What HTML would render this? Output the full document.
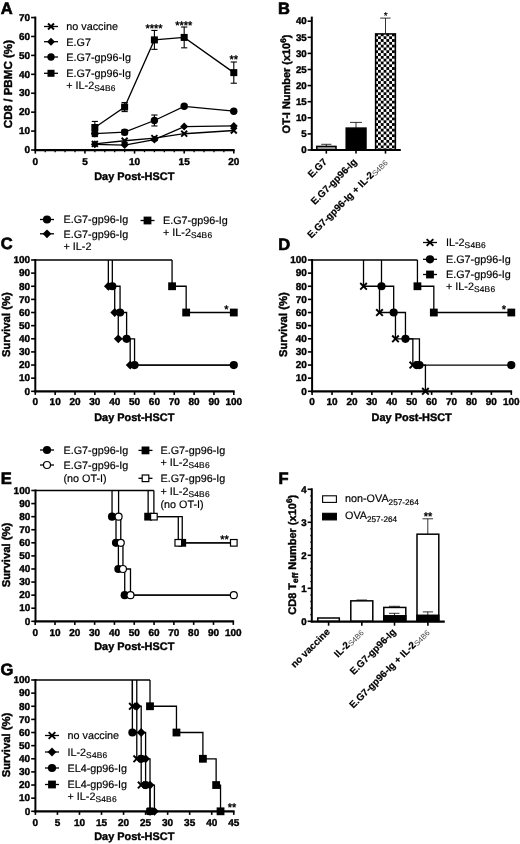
<!DOCTYPE html>
<html><head><meta charset="utf-8"><title>Figure</title>
<style>html,body{margin:0;padding:0;background:#fff;}svg{display:block;will-change:transform;}text{font-family:"Liberation Sans",sans-serif;text-rendering:geometricPrecision;}</style></head>
<body>
<svg width="520" height="844" viewBox="0 0 520 844" font-family="'Liberation Sans', sans-serif" fill="#000">
<defs><pattern id="chk" x="375.2" y="33.5" width="5.6" height="5.6" patternUnits="userSpaceOnUse"><rect width="5.6" height="5.6" fill="#fff"/><rect x="0" y="0" width="2.8" height="2.8" fill="#000"/><rect x="2.8" y="2.8" width="2.8" height="2.8" fill="#000"/></pattern></defs>
<rect width="520" height="844" fill="#fff"/>
<text x="0.8" y="13.8" font-size="16.5" font-weight="bold" text-anchor="start" stroke="#000" stroke-width="0.65" >A</text>
<polyline points="94.85,143.95 124.62,140.73 154.4,138.08 184.18,133.73 233.8,130.51" fill="none" stroke="#000" stroke-width="1.3" stroke-linejoin="miter" />
<polyline points="94.85,144.32 124.62,145.08 154.4,139.59 184.18,126.54 233.8,125.97" fill="none" stroke="#000" stroke-width="1.3" stroke-linejoin="miter" />
<polyline points="94.85,133.54 124.62,132.22 154.4,120.48 184.18,106.29 233.8,111.21" fill="none" stroke="#000" stroke-width="1.3" stroke-linejoin="miter" />
<polyline points="94.85,127.49 124.62,107.05 154.4,39.89 184.18,37.43 233.8,72.62" fill="none" stroke="#000" stroke-width="1.3" stroke-linejoin="miter" />
<line x1="94.85" y1="121.43" x2="94.85" y2="133.54" stroke="#000" stroke-width="1.1" />
<line x1="91.75" y1="121.43" x2="97.95" y2="121.43" stroke="#000" stroke-width="1.1" />
<line x1="91.75" y1="133.54" x2="97.95" y2="133.54" stroke="#000" stroke-width="1.1" />
<line x1="124.62" y1="102.51" x2="124.62" y2="111.59" stroke="#000" stroke-width="1.1" />
<line x1="121.53" y1="102.51" x2="127.72" y2="102.51" stroke="#000" stroke-width="1.1" />
<line x1="121.53" y1="111.59" x2="127.72" y2="111.59" stroke="#000" stroke-width="1.1" />
<line x1="154.4" y1="30.43" x2="154.4" y2="49.35" stroke="#000" stroke-width="1.1" />
<line x1="151.3" y1="30.43" x2="157.5" y2="30.43" stroke="#000" stroke-width="1.1" />
<line x1="151.3" y1="49.35" x2="157.5" y2="49.35" stroke="#000" stroke-width="1.1" />
<line x1="184.18" y1="27.02" x2="184.18" y2="47.83" stroke="#000" stroke-width="1.1" />
<line x1="181.08" y1="27.02" x2="187.28" y2="27.02" stroke="#000" stroke-width="1.1" />
<line x1="181.08" y1="47.83" x2="187.28" y2="47.83" stroke="#000" stroke-width="1.1" />
<line x1="233.8" y1="62.02" x2="233.8" y2="83.21" stroke="#000" stroke-width="1.1" />
<line x1="230.7" y1="62.02" x2="236.9" y2="62.02" stroke="#000" stroke-width="1.1" />
<line x1="230.7" y1="83.21" x2="236.9" y2="83.21" stroke="#000" stroke-width="1.1" />
<line x1="94.85" y1="130.51" x2="94.85" y2="136.57" stroke="#000" stroke-width="1.1" />
<line x1="91.75" y1="130.51" x2="97.95" y2="130.51" stroke="#000" stroke-width="1.1" />
<line x1="91.75" y1="136.57" x2="97.95" y2="136.57" stroke="#000" stroke-width="1.1" />
<line x1="124.62" y1="129.76" x2="124.62" y2="134.67" stroke="#000" stroke-width="1.1" />
<line x1="121.53" y1="129.76" x2="127.72" y2="129.76" stroke="#000" stroke-width="1.1" />
<line x1="121.53" y1="134.67" x2="127.72" y2="134.67" stroke="#000" stroke-width="1.1" />
<line x1="154.4" y1="115" x2="154.4" y2="125.97" stroke="#000" stroke-width="1.1" />
<line x1="151.3" y1="115" x2="157.5" y2="115" stroke="#000" stroke-width="1.1" />
<line x1="151.3" y1="125.97" x2="157.5" y2="125.97" stroke="#000" stroke-width="1.1" />
<line x1="184.18" y1="104.4" x2="184.18" y2="108.19" stroke="#000" stroke-width="1.1" />
<line x1="181.08" y1="104.4" x2="187.28" y2="104.4" stroke="#000" stroke-width="1.1" />
<line x1="181.08" y1="108.19" x2="187.28" y2="108.19" stroke="#000" stroke-width="1.1" />
<line x1="233.8" y1="109.7" x2="233.8" y2="112.73" stroke="#000" stroke-width="1.1" />
<line x1="230.7" y1="109.7" x2="236.9" y2="109.7" stroke="#000" stroke-width="1.1" />
<line x1="230.7" y1="112.73" x2="236.9" y2="112.73" stroke="#000" stroke-width="1.1" />
<line x1="91.88" y1="140.98" x2="97.82" y2="146.92" stroke="#000" stroke-width="1.9" />
<line x1="91.88" y1="146.92" x2="97.82" y2="140.98" stroke="#000" stroke-width="1.9" />
<line x1="121.66" y1="137.76" x2="127.59" y2="143.7" stroke="#000" stroke-width="1.9" />
<line x1="121.66" y1="143.7" x2="127.59" y2="137.76" stroke="#000" stroke-width="1.9" />
<line x1="151.43" y1="135.11" x2="157.37" y2="141.05" stroke="#000" stroke-width="1.9" />
<line x1="151.43" y1="141.05" x2="157.37" y2="135.11" stroke="#000" stroke-width="1.9" />
<line x1="181.21" y1="130.76" x2="187.15" y2="136.7" stroke="#000" stroke-width="1.9" />
<line x1="181.21" y1="136.7" x2="187.15" y2="130.76" stroke="#000" stroke-width="1.9" />
<line x1="230.83" y1="127.54" x2="236.77" y2="133.48" stroke="#000" stroke-width="1.9" />
<line x1="230.83" y1="133.48" x2="236.77" y2="127.54" stroke="#000" stroke-width="1.9" />
<polygon points="90.89,144.32 94.85,140.36 98.81,144.32 94.85,148.28" fill="#000"/>
<polygon points="120.67,145.08 124.62,141.12 128.59,145.08 124.62,149.04" fill="#000"/>
<polygon points="150.44,139.59 154.4,135.63 158.36,139.59 154.4,143.55" fill="#000"/>
<polygon points="180.22,126.54 184.18,122.58 188.14,126.54 184.18,130.5" fill="#000"/>
<polygon points="229.84,125.97 233.8,122.01 237.76,125.97 233.8,129.93" fill="#000"/>
<circle cx="94.85" cy="133.54" r="3.69" fill="#000"/>
<circle cx="124.62" cy="132.22" r="3.69" fill="#000"/>
<circle cx="154.4" cy="120.48" r="3.69" fill="#000"/>
<circle cx="184.18" cy="106.29" r="3.69" fill="#000"/>
<circle cx="233.8" cy="111.21" r="3.69" fill="#000"/>
<rect x="91.34" y="123.98" width="7.02" height="7.02" fill="#000"/>
<rect x="121.11" y="103.54" width="7.02" height="7.02" fill="#000"/>
<rect x="150.89" y="36.38" width="7.02" height="7.02" fill="#000"/>
<rect x="180.67" y="33.92" width="7.02" height="7.02" fill="#000"/>
<rect x="230.29" y="69.11" width="7.02" height="7.02" fill="#000"/>
<line x1="35.3" y1="16.56" x2="35.3" y2="151" stroke="#000" stroke-width="2.0" />
<line x1="31.1" y1="150" x2="35.3" y2="150" stroke="#000" stroke-width="1.6" />
<text x="30.1" y="153.25" font-size="10.0" font-weight="bold" text-anchor="end" stroke="#000" stroke-width="0.4" >0</text>
<line x1="31.1" y1="131.08" x2="35.3" y2="131.08" stroke="#000" stroke-width="1.6" />
<text x="30.1" y="134.33" font-size="10.0" font-weight="bold" text-anchor="end" stroke="#000" stroke-width="0.4" >10</text>
<line x1="31.1" y1="112.16" x2="35.3" y2="112.16" stroke="#000" stroke-width="1.6" />
<text x="30.1" y="115.41" font-size="10.0" font-weight="bold" text-anchor="end" stroke="#000" stroke-width="0.4" >20</text>
<line x1="31.1" y1="93.24" x2="35.3" y2="93.24" stroke="#000" stroke-width="1.6" />
<text x="30.1" y="96.49" font-size="10.0" font-weight="bold" text-anchor="end" stroke="#000" stroke-width="0.4" >30</text>
<line x1="31.1" y1="74.32" x2="35.3" y2="74.32" stroke="#000" stroke-width="1.6" />
<text x="30.1" y="77.57" font-size="10.0" font-weight="bold" text-anchor="end" stroke="#000" stroke-width="0.4" >40</text>
<line x1="31.1" y1="55.4" x2="35.3" y2="55.4" stroke="#000" stroke-width="1.6" />
<text x="30.1" y="58.65" font-size="10.0" font-weight="bold" text-anchor="end" stroke="#000" stroke-width="0.4" >50</text>
<line x1="31.1" y1="36.48" x2="35.3" y2="36.48" stroke="#000" stroke-width="1.6" />
<text x="30.1" y="39.73" font-size="10.0" font-weight="bold" text-anchor="end" stroke="#000" stroke-width="0.4" >60</text>
<line x1="31.1" y1="17.56" x2="35.3" y2="17.56" stroke="#000" stroke-width="1.6" />
<text x="30.1" y="20.81" font-size="10.0" font-weight="bold" text-anchor="end" stroke="#000" stroke-width="0.4" >70</text>
<line x1="34.3" y1="150.15" x2="234.6" y2="150.15" stroke="#000" stroke-width="2.2" />
<line x1="35.3" y1="150" x2="35.3" y2="153.6" stroke="#000" stroke-width="1.6" />
<text x="35.3" y="164.8" font-size="10.0" font-weight="bold" text-anchor="middle" stroke="#000" stroke-width="0.4" >0</text>
<line x1="84.92" y1="150" x2="84.92" y2="153.6" stroke="#000" stroke-width="1.6" />
<text x="84.92" y="164.8" font-size="10.0" font-weight="bold" text-anchor="middle" stroke="#000" stroke-width="0.4" >5</text>
<line x1="134.55" y1="150" x2="134.55" y2="153.6" stroke="#000" stroke-width="1.6" />
<text x="134.55" y="164.8" font-size="10.0" font-weight="bold" text-anchor="middle" stroke="#000" stroke-width="0.4" >10</text>
<line x1="184.18" y1="150" x2="184.18" y2="153.6" stroke="#000" stroke-width="1.6" />
<text x="184.18" y="164.8" font-size="10.0" font-weight="bold" text-anchor="middle" stroke="#000" stroke-width="0.4" >15</text>
<line x1="233.8" y1="150" x2="233.8" y2="153.6" stroke="#000" stroke-width="1.6" />
<text x="233.8" y="164.8" font-size="10.0" font-weight="bold" text-anchor="middle" stroke="#000" stroke-width="0.4" >20</text>
<line x1="45.22" y1="150" x2="45.22" y2="152.2" stroke="#000" stroke-width="1.2800000000000002" />
<line x1="55.15" y1="150" x2="55.15" y2="152.2" stroke="#000" stroke-width="1.2800000000000002" />
<line x1="65.08" y1="150" x2="65.08" y2="152.2" stroke="#000" stroke-width="1.2800000000000002" />
<line x1="75" y1="150" x2="75" y2="152.2" stroke="#000" stroke-width="1.2800000000000002" />
<line x1="94.85" y1="150" x2="94.85" y2="152.2" stroke="#000" stroke-width="1.2800000000000002" />
<line x1="104.78" y1="150" x2="104.78" y2="152.2" stroke="#000" stroke-width="1.2800000000000002" />
<line x1="114.7" y1="150" x2="114.7" y2="152.2" stroke="#000" stroke-width="1.2800000000000002" />
<line x1="124.62" y1="150" x2="124.62" y2="152.2" stroke="#000" stroke-width="1.2800000000000002" />
<line x1="144.48" y1="150" x2="144.48" y2="152.2" stroke="#000" stroke-width="1.2800000000000002" />
<line x1="154.4" y1="150" x2="154.4" y2="152.2" stroke="#000" stroke-width="1.2800000000000002" />
<line x1="164.32" y1="150" x2="164.32" y2="152.2" stroke="#000" stroke-width="1.2800000000000002" />
<line x1="174.25" y1="150" x2="174.25" y2="152.2" stroke="#000" stroke-width="1.2800000000000002" />
<line x1="194.1" y1="150" x2="194.1" y2="152.2" stroke="#000" stroke-width="1.2800000000000002" />
<line x1="204.03" y1="150" x2="204.03" y2="152.2" stroke="#000" stroke-width="1.2800000000000002" />
<line x1="213.95" y1="150" x2="213.95" y2="152.2" stroke="#000" stroke-width="1.2800000000000002" />
<line x1="223.88" y1="150" x2="223.88" y2="152.2" stroke="#000" stroke-width="1.2800000000000002" />
<text x="134.3" y="180.2" font-size="10.95" font-weight="bold" text-anchor="middle" stroke="#000" stroke-width="0.4" >Day Post-HSCT</text>
<text x="12" y="84.1" font-size="11.6" font-weight="bold" text-anchor="middle" stroke="#000" stroke-width="0.4" transform="rotate(-90 12 84.1)">CD8 / PBMC (%)</text>
<line x1="44" y1="26.5" x2="58" y2="26.5" stroke="#000" stroke-width="1.3" />
<line x1="48.03" y1="23.53" x2="53.97" y2="29.47" stroke="#000" stroke-width="1.9" />
<line x1="48.03" y1="29.47" x2="53.97" y2="23.53" stroke="#000" stroke-width="1.9" />
<text x="66.3" y="30.3" font-size="10.8" font-weight="normal" text-anchor="start" stroke="#000" stroke-width="0.18" >no vaccine</text>
<line x1="44" y1="41.7" x2="58" y2="41.7" stroke="#000" stroke-width="1.3" />
<polygon points="47.04,41.7 51,37.74 54.96,41.7 51,45.66" fill="#000"/>
<text x="66.3" y="45.5" font-size="10.8" font-weight="normal" text-anchor="start" stroke="#000" stroke-width="0.18" >E.G7</text>
<line x1="44" y1="57" x2="58" y2="57" stroke="#000" stroke-width="1.3" />
<circle cx="51" cy="57" r="3.69" fill="#000"/>
<text x="66.3" y="60.8" font-size="10.8" font-weight="normal" text-anchor="start" stroke="#000" stroke-width="0.18" >E.G7-gp96-Ig</text>
<line x1="44" y1="73.3" x2="58" y2="73.3" stroke="#000" stroke-width="1.3" />
<rect x="47.49" y="69.79" width="7.02" height="7.02" fill="#000"/>
<text x="66.3" y="77.1" font-size="10.8" font-weight="normal" text-anchor="start" stroke="#000" stroke-width="0.18" >E.G7-gp96-Ig</text>
<text x="66.3" y="89.1" font-size="10.8" font-weight="normal" text-anchor="start" stroke="#000" stroke-width="0.18" >+ IL-2<tspan font-size="8.42" dy="2.1" letter-spacing="0.2">S4B6</tspan></text>
<text x="154" y="31.5" font-size="11" font-weight="normal" text-anchor="middle" stroke="#000" stroke-width="0.4" >****</text>
<text x="183.8" y="28.5" font-size="11" font-weight="normal" text-anchor="middle" stroke="#000" stroke-width="0.4" >****</text>
<text x="233.8" y="63.2" font-size="11" font-weight="normal" text-anchor="middle" stroke="#000" stroke-width="0.4" >**</text>
<text x="278" y="14.2" font-size="16.5" font-weight="bold" text-anchor="start" stroke="#000" stroke-width="0.65" >B</text>
<line x1="326.3" y1="146.78" x2="326.3" y2="144.3" stroke="#000" stroke-width="0.8" />
<line x1="321.2" y1="144.3" x2="331.4" y2="144.3" stroke="#000" stroke-width="0.8" />
<rect x="316.8" y="146.4" width="19.2" height="3.6" fill="#a0a0a0" stroke="#000" stroke-width="1.5"/>
<line x1="356" y1="128.1" x2="356" y2="122.4" stroke="#000" stroke-width="0.8" />
<line x1="350" y1="122.4" x2="362" y2="122.4" stroke="#000" stroke-width="0.8" />
<rect x="346.2" y="128.1" width="19.8" height="21.9" fill="#000" stroke="#000" stroke-width="1.5"/>
<line x1="385.5" y1="33.5" x2="385.5" y2="18.1" stroke="#000" stroke-width="0.8" />
<line x1="380.2" y1="18.1" x2="390.6" y2="18.1" stroke="#000" stroke-width="0.8" />
<rect x="375.6" y="33.9" width="19.8" height="116.1" fill="url(#chk)" stroke="#000" stroke-width="1.5"/>
<text x="385.6" y="18.8" font-size="10" font-weight="normal" text-anchor="middle" stroke="#000" stroke-width="0.18" >*</text>
<line x1="311.8" y1="16.6" x2="311.8" y2="151" stroke="#000" stroke-width="2.0" />
<line x1="307.6" y1="150" x2="311.8" y2="150" stroke="#000" stroke-width="1.6" />
<text x="306.4" y="153.25" font-size="9.7" font-weight="bold" text-anchor="end" stroke="#000" stroke-width="0.4" letter-spacing="-0.2">0</text>
<line x1="307.6" y1="133.9" x2="311.8" y2="133.9" stroke="#000" stroke-width="1.6" />
<text x="306.4" y="137.15" font-size="9.7" font-weight="bold" text-anchor="end" stroke="#000" stroke-width="0.4" letter-spacing="-0.2">5</text>
<line x1="307.6" y1="117.8" x2="311.8" y2="117.8" stroke="#000" stroke-width="1.6" />
<text x="306.4" y="121.05" font-size="9.7" font-weight="bold" text-anchor="end" stroke="#000" stroke-width="0.4" letter-spacing="-0.2">10</text>
<line x1="307.6" y1="101.7" x2="311.8" y2="101.7" stroke="#000" stroke-width="1.6" />
<text x="306.4" y="104.95" font-size="9.7" font-weight="bold" text-anchor="end" stroke="#000" stroke-width="0.4" letter-spacing="-0.2">15</text>
<line x1="307.6" y1="85.6" x2="311.8" y2="85.6" stroke="#000" stroke-width="1.6" />
<text x="306.4" y="88.85" font-size="9.7" font-weight="bold" text-anchor="end" stroke="#000" stroke-width="0.4" letter-spacing="-0.2">20</text>
<line x1="307.6" y1="69.5" x2="311.8" y2="69.5" stroke="#000" stroke-width="1.6" />
<text x="306.4" y="72.75" font-size="9.7" font-weight="bold" text-anchor="end" stroke="#000" stroke-width="0.4" letter-spacing="-0.2">25</text>
<line x1="307.6" y1="53.4" x2="311.8" y2="53.4" stroke="#000" stroke-width="1.6" />
<text x="306.4" y="56.65" font-size="9.7" font-weight="bold" text-anchor="end" stroke="#000" stroke-width="0.4" letter-spacing="-0.2">30</text>
<line x1="307.6" y1="37.3" x2="311.8" y2="37.3" stroke="#000" stroke-width="1.6" />
<text x="306.4" y="40.55" font-size="9.7" font-weight="bold" text-anchor="end" stroke="#000" stroke-width="0.4" letter-spacing="-0.2">35</text>
<line x1="307.6" y1="21.2" x2="311.8" y2="21.2" stroke="#000" stroke-width="1.6" />
<text x="306.4" y="24.45" font-size="9.7" font-weight="bold" text-anchor="end" stroke="#000" stroke-width="0.4" letter-spacing="-0.2">40</text>
<line x1="310.8" y1="150" x2="400.8" y2="150" stroke="#000" stroke-width="2.0" />
<line x1="326.3" y1="150" x2="326.3" y2="153.6" stroke="#000" stroke-width="1.6" />
<line x1="356" y1="150" x2="356" y2="153.6" stroke="#000" stroke-width="1.6" />
<line x1="385.5" y1="150" x2="385.5" y2="153.6" stroke="#000" stroke-width="1.6" />
<text x="327.5" y="162.5" font-size="9.8" font-weight="bold" text-anchor="end" stroke="#000" stroke-width="0.2" transform="rotate(-45 327.5 162.5)">E.G7</text>
<text x="357.5" y="162.5" font-size="9.8" font-weight="bold" text-anchor="end" stroke="#000" stroke-width="0.2" transform="rotate(-45 357.5 162.5)">E.G7-gp96-Ig</text>
<text x="387.5" y="162.5" font-size="9.8" font-weight="bold" text-anchor="end" stroke="#000" stroke-width="0.2" transform="rotate(-45 387.5 162.5)">E.G7-gp96-Ig + IL-2<tspan font-weight="normal" fill="#444" stroke="none" font-size="7.64" dy="1.2">S4B6</tspan></text>
<text x="290" y="84" font-size="10.95" font-weight="bold" text-anchor="middle" stroke="#000" stroke-width="0.4" transform="rotate(-90 290 84)">OT-I Number (x10<tspan font-size="8.1" dy="-4.4">6</tspan><tspan dy="4.4">)</tspan></text>
<text x="0.8" y="249.4" font-size="16.5" font-weight="bold" text-anchor="start" stroke="#000" stroke-width="0.65" >C</text>
<polyline points="108.35,260 108.35,286.26 114.7,286.26 114.7,312.52 118.27,312.52 118.27,338.78 130.18,338.78 130.18,365.04 233.8,365.04" fill="none" stroke="#000" stroke-width="1.3" stroke-linejoin="miter" />
<polyline points="112.32,260 112.32,286.26 120.06,286.26 120.06,312.52 126.61,312.52 126.61,338.78 134.55,338.78 134.55,365.04 233.8,365.04" fill="none" stroke="#000" stroke-width="1.3" stroke-linejoin="miter" />
<polyline points="172.07,260 172.07,286.26 186.16,286.26 186.16,312.52 233.8,312.52" fill="none" stroke="#000" stroke-width="1.3" stroke-linejoin="miter" />
<line x1="35.3" y1="260" x2="172.07" y2="260" stroke="#000" stroke-width="1.3" />
<polygon points="103.95,286.26 108.35,281.86 112.75,286.26 108.35,290.66" fill="#000"/>
<polygon points="110.3,312.52 114.7,308.12 119.1,312.52 114.7,316.92" fill="#000"/>
<polygon points="113.87,338.78 118.27,334.38 122.67,338.78 118.27,343.18" fill="#000"/>
<polygon points="125.78,365.04 130.18,360.64 134.58,365.04 130.18,369.44" fill="#000"/>
<circle cx="112.32" cy="286.26" r="4.1" fill="#000"/>
<circle cx="120.06" cy="312.52" r="4.1" fill="#000"/>
<circle cx="126.61" cy="338.78" r="4.1" fill="#000"/>
<circle cx="134.55" cy="365.04" r="4.1" fill="#000"/>
<circle cx="233.8" cy="365.04" r="4.1" fill="#000"/>
<rect x="168.17" y="282.36" width="7.8" height="7.8" fill="#000"/>
<rect x="182.26" y="308.62" width="7.8" height="7.8" fill="#000"/>
<rect x="229.9" y="308.62" width="7.8" height="7.8" fill="#000"/>
<line x1="35.3" y1="259" x2="35.3" y2="392.3" stroke="#000" stroke-width="2.0" />
<line x1="31.1" y1="391.3" x2="35.3" y2="391.3" stroke="#000" stroke-width="1.6" />
<text x="30.1" y="394.55" font-size="10.0" font-weight="bold" text-anchor="end" stroke="#000" stroke-width="0.4" >0</text>
<line x1="31.1" y1="378.17" x2="35.3" y2="378.17" stroke="#000" stroke-width="1.6" />
<text x="30.1" y="381.42" font-size="10.0" font-weight="bold" text-anchor="end" stroke="#000" stroke-width="0.4" >10</text>
<line x1="31.1" y1="365.04" x2="35.3" y2="365.04" stroke="#000" stroke-width="1.6" />
<text x="30.1" y="368.29" font-size="10.0" font-weight="bold" text-anchor="end" stroke="#000" stroke-width="0.4" >20</text>
<line x1="31.1" y1="351.91" x2="35.3" y2="351.91" stroke="#000" stroke-width="1.6" />
<text x="30.1" y="355.16" font-size="10.0" font-weight="bold" text-anchor="end" stroke="#000" stroke-width="0.4" >30</text>
<line x1="31.1" y1="338.78" x2="35.3" y2="338.78" stroke="#000" stroke-width="1.6" />
<text x="30.1" y="342.03" font-size="10.0" font-weight="bold" text-anchor="end" stroke="#000" stroke-width="0.4" >40</text>
<line x1="31.1" y1="325.65" x2="35.3" y2="325.65" stroke="#000" stroke-width="1.6" />
<text x="30.1" y="328.9" font-size="10.0" font-weight="bold" text-anchor="end" stroke="#000" stroke-width="0.4" >50</text>
<line x1="31.1" y1="312.52" x2="35.3" y2="312.52" stroke="#000" stroke-width="1.6" />
<text x="30.1" y="315.77" font-size="10.0" font-weight="bold" text-anchor="end" stroke="#000" stroke-width="0.4" >60</text>
<line x1="31.1" y1="299.39" x2="35.3" y2="299.39" stroke="#000" stroke-width="1.6" />
<text x="30.1" y="302.64" font-size="10.0" font-weight="bold" text-anchor="end" stroke="#000" stroke-width="0.4" >70</text>
<line x1="31.1" y1="286.26" x2="35.3" y2="286.26" stroke="#000" stroke-width="1.6" />
<text x="30.1" y="289.51" font-size="10.0" font-weight="bold" text-anchor="end" stroke="#000" stroke-width="0.4" >80</text>
<line x1="31.1" y1="273.13" x2="35.3" y2="273.13" stroke="#000" stroke-width="1.6" />
<text x="30.1" y="276.38" font-size="10.0" font-weight="bold" text-anchor="end" stroke="#000" stroke-width="0.4" >90</text>
<line x1="31.1" y1="260" x2="35.3" y2="260" stroke="#000" stroke-width="1.6" />
<text x="30.1" y="263.25" font-size="10.0" font-weight="bold" text-anchor="end" stroke="#000" stroke-width="0.4" >100</text>
<line x1="34.3" y1="391.45" x2="234.6" y2="391.45" stroke="#000" stroke-width="2.2" />
<line x1="35.3" y1="391.3" x2="35.3" y2="394.9" stroke="#000" stroke-width="1.6" />
<text x="35.3" y="405.2" font-size="10.0" font-weight="bold" text-anchor="middle" stroke="#000" stroke-width="0.4" >0</text>
<line x1="55.15" y1="391.3" x2="55.15" y2="394.9" stroke="#000" stroke-width="1.6" />
<text x="55.15" y="405.2" font-size="10.0" font-weight="bold" text-anchor="middle" stroke="#000" stroke-width="0.4" >10</text>
<line x1="75" y1="391.3" x2="75" y2="394.9" stroke="#000" stroke-width="1.6" />
<text x="75" y="405.2" font-size="10.0" font-weight="bold" text-anchor="middle" stroke="#000" stroke-width="0.4" >20</text>
<line x1="94.85" y1="391.3" x2="94.85" y2="394.9" stroke="#000" stroke-width="1.6" />
<text x="94.85" y="405.2" font-size="10.0" font-weight="bold" text-anchor="middle" stroke="#000" stroke-width="0.4" >30</text>
<line x1="114.7" y1="391.3" x2="114.7" y2="394.9" stroke="#000" stroke-width="1.6" />
<text x="114.7" y="405.2" font-size="10.0" font-weight="bold" text-anchor="middle" stroke="#000" stroke-width="0.4" >40</text>
<line x1="134.55" y1="391.3" x2="134.55" y2="394.9" stroke="#000" stroke-width="1.6" />
<text x="134.55" y="405.2" font-size="10.0" font-weight="bold" text-anchor="middle" stroke="#000" stroke-width="0.4" >50</text>
<line x1="154.4" y1="391.3" x2="154.4" y2="394.9" stroke="#000" stroke-width="1.6" />
<text x="154.4" y="405.2" font-size="10.0" font-weight="bold" text-anchor="middle" stroke="#000" stroke-width="0.4" >60</text>
<line x1="174.25" y1="391.3" x2="174.25" y2="394.9" stroke="#000" stroke-width="1.6" />
<text x="174.25" y="405.2" font-size="10.0" font-weight="bold" text-anchor="middle" stroke="#000" stroke-width="0.4" >70</text>
<line x1="194.1" y1="391.3" x2="194.1" y2="394.9" stroke="#000" stroke-width="1.6" />
<text x="194.1" y="405.2" font-size="10.0" font-weight="bold" text-anchor="middle" stroke="#000" stroke-width="0.4" >80</text>
<line x1="213.95" y1="391.3" x2="213.95" y2="394.9" stroke="#000" stroke-width="1.6" />
<text x="213.95" y="405.2" font-size="10.0" font-weight="bold" text-anchor="middle" stroke="#000" stroke-width="0.4" >90</text>
<line x1="233.8" y1="391.3" x2="233.8" y2="394.9" stroke="#000" stroke-width="1.6" />
<text x="233.8" y="405.2" font-size="10.0" font-weight="bold" text-anchor="middle" stroke="#000" stroke-width="0.4" >100</text>
<text x="134.3" y="420.5" font-size="10.95" font-weight="bold" text-anchor="middle" stroke="#000" stroke-width="0.4" >Day Post-HSCT</text>
<text x="10.4" y="324.6" font-size="11.3" font-weight="bold" text-anchor="middle" stroke="#000" stroke-width="0.4" transform="rotate(-90 10.4 324.6)">Survival (%)</text>
<line x1="40" y1="219.5" x2="54" y2="219.5" stroke="#000" stroke-width="1.3" />
<circle cx="47" cy="219.5" r="4.1" fill="#000"/>
<text x="63.5" y="223.3" font-size="10.8" font-weight="normal" text-anchor="start" stroke="#000" stroke-width="0.18" >E.G7-gp96-Ig</text>
<line x1="40" y1="233.8" x2="54" y2="233.8" stroke="#000" stroke-width="1.3" />
<polygon points="42.6,233.8 47,229.4 51.4,233.8 47,238.2" fill="#000"/>
<text x="63.5" y="237.6" font-size="10.8" font-weight="normal" text-anchor="start" stroke="#000" stroke-width="0.18" >E.G7-gp96-Ig</text>
<text x="63.5" y="249.6" font-size="10.8" font-weight="normal" text-anchor="start" stroke="#000" stroke-width="0.18" >+ IL-2</text>
<line x1="140.5" y1="220.5" x2="154.5" y2="220.5" stroke="#000" stroke-width="1.3" />
<rect x="143.6" y="216.6" width="7.8" height="7.8" fill="#000"/>
<text x="163" y="224.3" font-size="10.8" font-weight="normal" text-anchor="start" stroke="#000" stroke-width="0.18" >E.G7-gp96-Ig</text>
<text x="163" y="236.3" font-size="10.8" font-weight="normal" text-anchor="start" stroke="#000" stroke-width="0.18" >+ IL-2<tspan font-size="8.42" dy="2.1" letter-spacing="0.2">S4B6</tspan></text>
<text x="226.3" y="313" font-size="11" font-weight="normal" text-anchor="middle" stroke="#000" stroke-width="0.4" >*</text>
<text x="278.3" y="249.6" font-size="16.5" font-weight="bold" text-anchor="start" stroke="#000" stroke-width="0.65" >D</text>
<polyline points="363.52,260 363.52,286.26 379.5,286.26 379.5,312.52 395.47,312.52 395.47,338.78 412.85,338.78 412.85,365.04 425.43,365.04 425.43,391.3" fill="none" stroke="#000" stroke-width="1.3" stroke-linejoin="miter" />
<polyline points="381.5,260 381.5,286.26 393.68,286.26 393.68,312.52 405.46,312.52 405.46,338.78 419.44,338.78 419.44,365.04 511.3,365.04" fill="none" stroke="#000" stroke-width="1.3" stroke-linejoin="miter" />
<polyline points="417.44,260 417.44,286.26 433.82,286.26 433.82,312.52 511.3,312.52" fill="none" stroke="#000" stroke-width="1.3" stroke-linejoin="miter" />
<line x1="311.6" y1="260" x2="417.44" y2="260" stroke="#000" stroke-width="1.3" />
<line x1="360.22" y1="282.96" x2="366.82" y2="289.56" stroke="#000" stroke-width="1.9" />
<line x1="360.22" y1="289.56" x2="366.82" y2="282.96" stroke="#000" stroke-width="1.9" />
<line x1="376.2" y1="309.22" x2="382.8" y2="315.82" stroke="#000" stroke-width="1.9" />
<line x1="376.2" y1="315.82" x2="382.8" y2="309.22" stroke="#000" stroke-width="1.9" />
<line x1="392.17" y1="335.48" x2="398.77" y2="342.08" stroke="#000" stroke-width="1.9" />
<line x1="392.17" y1="342.08" x2="398.77" y2="335.48" stroke="#000" stroke-width="1.9" />
<line x1="409.55" y1="361.74" x2="416.15" y2="368.34" stroke="#000" stroke-width="1.9" />
<line x1="409.55" y1="368.34" x2="416.15" y2="361.74" stroke="#000" stroke-width="1.9" />
<line x1="422.13" y1="388" x2="428.73" y2="394.6" stroke="#000" stroke-width="1.9" />
<line x1="422.13" y1="394.6" x2="428.73" y2="388" stroke="#000" stroke-width="1.9" />
<circle cx="381.5" cy="286.26" r="4.1" fill="#000"/>
<circle cx="393.68" cy="312.52" r="4.1" fill="#000"/>
<circle cx="405.46" cy="338.78" r="4.1" fill="#000"/>
<circle cx="419.44" cy="365.04" r="4.1" fill="#000"/>
<circle cx="511.3" cy="365.04" r="4.1" fill="#000"/>
<rect x="413.54" y="282.36" width="7.8" height="7.8" fill="#000"/>
<rect x="429.92" y="308.62" width="7.8" height="7.8" fill="#000"/>
<rect x="507.4" y="308.62" width="7.8" height="7.8" fill="#000"/>
<circle cx="416.84" cy="365.04" r="4.1" fill="#000"/>
<line x1="312.1" y1="259" x2="312.1" y2="392.3" stroke="#000" stroke-width="2.0" />
<line x1="307.9" y1="391.3" x2="312.1" y2="391.3" stroke="#000" stroke-width="1.6" />
<text x="306.9" y="394.55" font-size="10.0" font-weight="bold" text-anchor="end" stroke="#000" stroke-width="0.4" >0</text>
<line x1="307.9" y1="378.17" x2="312.1" y2="378.17" stroke="#000" stroke-width="1.6" />
<text x="306.9" y="381.42" font-size="10.0" font-weight="bold" text-anchor="end" stroke="#000" stroke-width="0.4" >10</text>
<line x1="307.9" y1="365.04" x2="312.1" y2="365.04" stroke="#000" stroke-width="1.6" />
<text x="306.9" y="368.29" font-size="10.0" font-weight="bold" text-anchor="end" stroke="#000" stroke-width="0.4" >20</text>
<line x1="307.9" y1="351.91" x2="312.1" y2="351.91" stroke="#000" stroke-width="1.6" />
<text x="306.9" y="355.16" font-size="10.0" font-weight="bold" text-anchor="end" stroke="#000" stroke-width="0.4" >30</text>
<line x1="307.9" y1="338.78" x2="312.1" y2="338.78" stroke="#000" stroke-width="1.6" />
<text x="306.9" y="342.03" font-size="10.0" font-weight="bold" text-anchor="end" stroke="#000" stroke-width="0.4" >40</text>
<line x1="307.9" y1="325.65" x2="312.1" y2="325.65" stroke="#000" stroke-width="1.6" />
<text x="306.9" y="328.9" font-size="10.0" font-weight="bold" text-anchor="end" stroke="#000" stroke-width="0.4" >50</text>
<line x1="307.9" y1="312.52" x2="312.1" y2="312.52" stroke="#000" stroke-width="1.6" />
<text x="306.9" y="315.77" font-size="10.0" font-weight="bold" text-anchor="end" stroke="#000" stroke-width="0.4" >60</text>
<line x1="307.9" y1="299.39" x2="312.1" y2="299.39" stroke="#000" stroke-width="1.6" />
<text x="306.9" y="302.64" font-size="10.0" font-weight="bold" text-anchor="end" stroke="#000" stroke-width="0.4" >70</text>
<line x1="307.9" y1="286.26" x2="312.1" y2="286.26" stroke="#000" stroke-width="1.6" />
<text x="306.9" y="289.51" font-size="10.0" font-weight="bold" text-anchor="end" stroke="#000" stroke-width="0.4" >80</text>
<line x1="307.9" y1="273.13" x2="312.1" y2="273.13" stroke="#000" stroke-width="1.6" />
<text x="306.9" y="276.38" font-size="10.0" font-weight="bold" text-anchor="end" stroke="#000" stroke-width="0.4" >90</text>
<line x1="307.9" y1="260" x2="312.1" y2="260" stroke="#000" stroke-width="1.6" />
<text x="306.9" y="263.25" font-size="10.0" font-weight="bold" text-anchor="end" stroke="#000" stroke-width="0.4" >100</text>
<line x1="311.1" y1="391.45" x2="512.1" y2="391.45" stroke="#000" stroke-width="2.2" />
<line x1="312.1" y1="391.3" x2="312.1" y2="394.9" stroke="#000" stroke-width="1.6" />
<text x="312.1" y="405.2" font-size="10.0" font-weight="bold" text-anchor="middle" stroke="#000" stroke-width="0.4" >0</text>
<line x1="332.02" y1="391.3" x2="332.02" y2="394.9" stroke="#000" stroke-width="1.6" />
<text x="332.02" y="405.2" font-size="10.0" font-weight="bold" text-anchor="middle" stroke="#000" stroke-width="0.4" >10</text>
<line x1="351.94" y1="391.3" x2="351.94" y2="394.9" stroke="#000" stroke-width="1.6" />
<text x="351.94" y="405.2" font-size="10.0" font-weight="bold" text-anchor="middle" stroke="#000" stroke-width="0.4" >20</text>
<line x1="371.86" y1="391.3" x2="371.86" y2="394.9" stroke="#000" stroke-width="1.6" />
<text x="371.86" y="405.2" font-size="10.0" font-weight="bold" text-anchor="middle" stroke="#000" stroke-width="0.4" >30</text>
<line x1="391.78" y1="391.3" x2="391.78" y2="394.9" stroke="#000" stroke-width="1.6" />
<text x="391.78" y="405.2" font-size="10.0" font-weight="bold" text-anchor="middle" stroke="#000" stroke-width="0.4" >40</text>
<line x1="411.7" y1="391.3" x2="411.7" y2="394.9" stroke="#000" stroke-width="1.6" />
<text x="411.7" y="405.2" font-size="10.0" font-weight="bold" text-anchor="middle" stroke="#000" stroke-width="0.4" >50</text>
<line x1="431.62" y1="391.3" x2="431.62" y2="394.9" stroke="#000" stroke-width="1.6" />
<text x="431.62" y="405.2" font-size="10.0" font-weight="bold" text-anchor="middle" stroke="#000" stroke-width="0.4" >60</text>
<line x1="451.54" y1="391.3" x2="451.54" y2="394.9" stroke="#000" stroke-width="1.6" />
<text x="451.54" y="405.2" font-size="10.0" font-weight="bold" text-anchor="middle" stroke="#000" stroke-width="0.4" >70</text>
<line x1="471.46" y1="391.3" x2="471.46" y2="394.9" stroke="#000" stroke-width="1.6" />
<text x="471.46" y="405.2" font-size="10.0" font-weight="bold" text-anchor="middle" stroke="#000" stroke-width="0.4" >80</text>
<line x1="491.38" y1="391.3" x2="491.38" y2="394.9" stroke="#000" stroke-width="1.6" />
<text x="491.38" y="405.2" font-size="10.0" font-weight="bold" text-anchor="middle" stroke="#000" stroke-width="0.4" >90</text>
<line x1="511.3" y1="391.3" x2="511.3" y2="394.9" stroke="#000" stroke-width="1.6" />
<text x="511.3" y="405.2" font-size="10.0" font-weight="bold" text-anchor="middle" stroke="#000" stroke-width="0.4" >100</text>
<text x="411.7" y="420.5" font-size="10.95" font-weight="bold" text-anchor="middle" stroke="#000" stroke-width="0.4" >Day Post-HSCT</text>
<text x="286.7" y="324.6" font-size="11.3" font-weight="bold" text-anchor="middle" stroke="#000" stroke-width="0.4" transform="rotate(-90 286.7 324.6)">Survival (%)</text>
<line x1="423" y1="242.5" x2="437" y2="242.5" stroke="#000" stroke-width="1.3" />
<line x1="426.7" y1="239.2" x2="433.3" y2="245.8" stroke="#000" stroke-width="1.9" />
<line x1="426.7" y1="245.8" x2="433.3" y2="239.2" stroke="#000" stroke-width="1.9" />
<text x="446" y="246.3" font-size="10.8" font-weight="normal" text-anchor="start" stroke="#000" stroke-width="0.18" >IL-2<tspan font-size="8.42" dy="2.1" letter-spacing="0.2">S4B6</tspan></text>
<line x1="423" y1="259.3" x2="437" y2="259.3" stroke="#000" stroke-width="1.3" />
<circle cx="430" cy="259.3" r="4.1" fill="#000"/>
<text x="446" y="263.1" font-size="10.8" font-weight="normal" text-anchor="start" stroke="#000" stroke-width="0.18" >E.G7-gp96-Ig</text>
<line x1="423" y1="274.5" x2="437" y2="274.5" stroke="#000" stroke-width="1.3" />
<rect x="426.1" y="270.6" width="7.8" height="7.8" fill="#000"/>
<text x="446" y="278.3" font-size="10.8" font-weight="normal" text-anchor="start" stroke="#000" stroke-width="0.18" >E.G7-gp96-Ig</text>
<text x="446" y="290.3" font-size="10.8" font-weight="normal" text-anchor="start" stroke="#000" stroke-width="0.18" >+ IL-2<tspan font-size="8.42" dy="2.1" letter-spacing="0.2">S4B6</tspan></text>
<text x="503.8" y="313" font-size="11" font-weight="normal" text-anchor="middle" stroke="#000" stroke-width="0.4" >*</text>
<text x="0.8" y="483.9" font-size="16.5" font-weight="bold" text-anchor="start" stroke="#000" stroke-width="0.65" >E</text>
<polyline points="112.04,490.5 112.04,516.66 116.01,516.66 116.01,542.82 118.39,542.82 118.39,568.98 124.73,568.98 124.73,595.14 233.8,595.14" fill="none" stroke="#000" stroke-width="1.3" stroke-linejoin="miter" />
<polyline points="118.59,490.5 118.59,516.66 120.77,516.66 120.77,542.82 122.95,542.82 122.95,568.98 130.49,568.98 130.49,595.14 233.8,595.14" fill="none" stroke="#000" stroke-width="1.3" stroke-linejoin="miter" />
<polyline points="148.13,490.5 148.13,516.66 182.24,516.66 182.24,542.82 233.8,542.82" fill="none" stroke="#000" stroke-width="1.3" stroke-linejoin="miter" />
<polyline points="153.89,490.5 153.89,516.66 178.28,516.66 178.28,542.82 233.8,542.82" fill="none" stroke="#000" stroke-width="1.3" stroke-linejoin="miter" />
<line x1="35.5" y1="490.5" x2="153.89" y2="490.5" stroke="#000" stroke-width="1.3" />
<circle cx="112.04" cy="516.66" r="4.1" fill="#000"/>
<circle cx="116.01" cy="542.82" r="4.1" fill="#000"/>
<circle cx="118.39" cy="568.98" r="4.1" fill="#000"/>
<circle cx="124.73" cy="595.14" r="4.1" fill="#000"/>
<circle cx="118.59" cy="516.66" r="3.4999999999999996" fill="#fff" stroke="#000" stroke-width="1.2"/>
<circle cx="120.77" cy="542.82" r="3.4999999999999996" fill="#fff" stroke="#000" stroke-width="1.2"/>
<circle cx="122.95" cy="568.98" r="3.4999999999999996" fill="#fff" stroke="#000" stroke-width="1.2"/>
<circle cx="130.49" cy="595.14" r="3.4999999999999996" fill="#fff" stroke="#000" stroke-width="1.2"/>
<circle cx="233.8" cy="595.14" r="3.4999999999999996" fill="#fff" stroke="#000" stroke-width="1.2"/>
<rect x="144.23" y="512.76" width="7.8" height="7.8" fill="#000"/>
<rect x="178.34" y="538.92" width="7.8" height="7.8" fill="#000"/>
<rect x="150.59" y="513.36" width="6.6" height="6.6" fill="#fff" stroke="#000" stroke-width="1.2"/>
<rect x="174.98" y="539.52" width="6.6" height="6.6" fill="#fff" stroke="#000" stroke-width="1.2"/>
<rect x="230.5" y="539.52" width="6.6" height="6.6" fill="#fff" stroke="#000" stroke-width="1.2"/>
<line x1="35.5" y1="489.5" x2="35.5" y2="622.3" stroke="#000" stroke-width="2.0" />
<line x1="31.3" y1="621.3" x2="35.5" y2="621.3" stroke="#000" stroke-width="1.6" />
<text x="30.3" y="624.55" font-size="10.0" font-weight="bold" text-anchor="end" stroke="#000" stroke-width="0.4" >0</text>
<line x1="31.3" y1="608.22" x2="35.5" y2="608.22" stroke="#000" stroke-width="1.6" />
<text x="30.3" y="611.47" font-size="10.0" font-weight="bold" text-anchor="end" stroke="#000" stroke-width="0.4" >10</text>
<line x1="31.3" y1="595.14" x2="35.5" y2="595.14" stroke="#000" stroke-width="1.6" />
<text x="30.3" y="598.39" font-size="10.0" font-weight="bold" text-anchor="end" stroke="#000" stroke-width="0.4" >20</text>
<line x1="31.3" y1="582.06" x2="35.5" y2="582.06" stroke="#000" stroke-width="1.6" />
<text x="30.3" y="585.31" font-size="10.0" font-weight="bold" text-anchor="end" stroke="#000" stroke-width="0.4" >30</text>
<line x1="31.3" y1="568.98" x2="35.5" y2="568.98" stroke="#000" stroke-width="1.6" />
<text x="30.3" y="572.23" font-size="10.0" font-weight="bold" text-anchor="end" stroke="#000" stroke-width="0.4" >40</text>
<line x1="31.3" y1="555.9" x2="35.5" y2="555.9" stroke="#000" stroke-width="1.6" />
<text x="30.3" y="559.15" font-size="10.0" font-weight="bold" text-anchor="end" stroke="#000" stroke-width="0.4" >50</text>
<line x1="31.3" y1="542.82" x2="35.5" y2="542.82" stroke="#000" stroke-width="1.6" />
<text x="30.3" y="546.07" font-size="10.0" font-weight="bold" text-anchor="end" stroke="#000" stroke-width="0.4" >60</text>
<line x1="31.3" y1="529.74" x2="35.5" y2="529.74" stroke="#000" stroke-width="1.6" />
<text x="30.3" y="532.99" font-size="10.0" font-weight="bold" text-anchor="end" stroke="#000" stroke-width="0.4" >70</text>
<line x1="31.3" y1="516.66" x2="35.5" y2="516.66" stroke="#000" stroke-width="1.6" />
<text x="30.3" y="519.91" font-size="10.0" font-weight="bold" text-anchor="end" stroke="#000" stroke-width="0.4" >80</text>
<line x1="31.3" y1="503.58" x2="35.5" y2="503.58" stroke="#000" stroke-width="1.6" />
<text x="30.3" y="506.83" font-size="10.0" font-weight="bold" text-anchor="end" stroke="#000" stroke-width="0.4" >90</text>
<line x1="31.3" y1="490.5" x2="35.5" y2="490.5" stroke="#000" stroke-width="1.6" />
<text x="30.3" y="493.75" font-size="10.0" font-weight="bold" text-anchor="end" stroke="#000" stroke-width="0.4" >100</text>
<line x1="34.5" y1="621.45" x2="234.1" y2="621.45" stroke="#000" stroke-width="2.2" />
<line x1="35.2" y1="621.3" x2="35.2" y2="624.9" stroke="#000" stroke-width="1.6" />
<text x="35.2" y="635.8" font-size="10.0" font-weight="bold" text-anchor="middle" stroke="#000" stroke-width="0.4" >0</text>
<line x1="55.01" y1="621.3" x2="55.01" y2="624.9" stroke="#000" stroke-width="1.6" />
<text x="55.01" y="635.8" font-size="10.0" font-weight="bold" text-anchor="middle" stroke="#000" stroke-width="0.4" >10</text>
<line x1="74.82" y1="621.3" x2="74.82" y2="624.9" stroke="#000" stroke-width="1.6" />
<text x="74.82" y="635.8" font-size="10.0" font-weight="bold" text-anchor="middle" stroke="#000" stroke-width="0.4" >20</text>
<line x1="94.63" y1="621.3" x2="94.63" y2="624.9" stroke="#000" stroke-width="1.6" />
<text x="94.63" y="635.8" font-size="10.0" font-weight="bold" text-anchor="middle" stroke="#000" stroke-width="0.4" >30</text>
<line x1="114.44" y1="621.3" x2="114.44" y2="624.9" stroke="#000" stroke-width="1.6" />
<text x="114.44" y="635.8" font-size="10.0" font-weight="bold" text-anchor="middle" stroke="#000" stroke-width="0.4" >40</text>
<line x1="134.25" y1="621.3" x2="134.25" y2="624.9" stroke="#000" stroke-width="1.6" />
<text x="134.25" y="635.8" font-size="10.0" font-weight="bold" text-anchor="middle" stroke="#000" stroke-width="0.4" >50</text>
<line x1="154.06" y1="621.3" x2="154.06" y2="624.9" stroke="#000" stroke-width="1.6" />
<text x="154.06" y="635.8" font-size="10.0" font-weight="bold" text-anchor="middle" stroke="#000" stroke-width="0.4" >60</text>
<line x1="173.87" y1="621.3" x2="173.87" y2="624.9" stroke="#000" stroke-width="1.6" />
<text x="173.87" y="635.8" font-size="10.0" font-weight="bold" text-anchor="middle" stroke="#000" stroke-width="0.4" >70</text>
<line x1="193.68" y1="621.3" x2="193.68" y2="624.9" stroke="#000" stroke-width="1.6" />
<text x="193.68" y="635.8" font-size="10.0" font-weight="bold" text-anchor="middle" stroke="#000" stroke-width="0.4" >80</text>
<line x1="213.49" y1="621.3" x2="213.49" y2="624.9" stroke="#000" stroke-width="1.6" />
<text x="213.49" y="635.8" font-size="10.0" font-weight="bold" text-anchor="middle" stroke="#000" stroke-width="0.4" >90</text>
<line x1="233.3" y1="621.3" x2="233.3" y2="624.9" stroke="#000" stroke-width="1.6" />
<text x="233.3" y="635.8" font-size="10.0" font-weight="bold" text-anchor="middle" stroke="#000" stroke-width="0.4" >100</text>
<text x="134.3" y="650.2" font-size="10.95" font-weight="bold" text-anchor="middle" stroke="#000" stroke-width="0.4" >Day Post-HSCT</text>
<text x="10.4" y="555" font-size="11.3" font-weight="bold" text-anchor="middle" stroke="#000" stroke-width="0.4" transform="rotate(-90 10.4 555)">Survival (%)</text>
<line x1="40" y1="450" x2="54" y2="450" stroke="#000" stroke-width="1.3" />
<circle cx="47" cy="450" r="4.1" fill="#000"/>
<text x="63.5" y="453.8" font-size="10.8" font-weight="normal" text-anchor="start" stroke="#000" stroke-width="0.18" >E.G7-gp96-Ig</text>
<line x1="40" y1="465" x2="54" y2="465" stroke="#000" stroke-width="1.3" />
<circle cx="47" cy="465" r="3.4999999999999996" fill="#fff" stroke="#000" stroke-width="1.2"/>
<text x="63.5" y="468.8" font-size="10.8" font-weight="normal" text-anchor="start" stroke="#000" stroke-width="0.18" >E.G7-gp96-Ig</text>
<text x="63.5" y="481.5" font-size="10.8" font-weight="normal" text-anchor="start" stroke="#000" stroke-width="0.18" >(no OT-I)</text>
<line x1="138.5" y1="450.4" x2="152.5" y2="450.4" stroke="#000" stroke-width="1.3" />
<rect x="141.6" y="446.5" width="7.8" height="7.8" fill="#000"/>
<text x="160.5" y="454.2" font-size="10.8" font-weight="normal" text-anchor="start" stroke="#000" stroke-width="0.18" >E.G7-gp96-Ig</text>
<text x="160.5" y="466.2" font-size="10.8" font-weight="normal" text-anchor="start" stroke="#000" stroke-width="0.18" >+ IL-2<tspan font-size="8.42" dy="2.1" letter-spacing="0.2">S4B6</tspan></text>
<line x1="138.5" y1="478.3" x2="152.5" y2="478.3" stroke="#000" stroke-width="1.3" />
<rect x="142.2" y="475" width="6.6" height="6.6" fill="#fff" stroke="#000" stroke-width="1.2"/>
<text x="160.5" y="482.1" font-size="10.8" font-weight="normal" text-anchor="start" stroke="#000" stroke-width="0.18" >E.G7-gp96-Ig</text>
<text x="160.5" y="494.9" font-size="10.8" font-weight="normal" text-anchor="start" stroke="#000" stroke-width="0.18" >+ IL-2<tspan font-size="8.42" dy="2.1" letter-spacing="0.2">S4B6</tspan></text>
<text x="160.5" y="507.7" font-size="10.8" font-weight="normal" text-anchor="start" stroke="#000" stroke-width="0.18" >(no OT-I)</text>
<text x="224.5" y="542.8" font-size="11" font-weight="normal" text-anchor="middle" stroke="#000" stroke-width="0.4" >**</text>
<text x="278.5" y="484.4" font-size="16.5" font-weight="bold" text-anchor="start" stroke="#000" stroke-width="0.65" >F</text>
<rect x="317.8" y="618" width="21.5" height="3.3" fill="#fff" stroke="#000" stroke-width="1.5"/>
<rect x="350.8" y="600.84" width="22" height="20.46" fill="#fff" stroke="#000" stroke-width="1.5"/>
<line x1="361.8" y1="600.84" x2="361.8" y2="600.01" stroke="#000" stroke-width="0.8" />
<line x1="356.5" y1="600.01" x2="367" y2="600.01" stroke="#000" stroke-width="0.8" />
<rect x="383.8" y="607.44" width="22" height="13.86" fill="#fff" stroke="#000" stroke-width="1.5"/>
<line x1="394.5" y1="607.44" x2="394.5" y2="606.3" stroke="#000" stroke-width="0.8" />
<line x1="389" y1="606.3" x2="400" y2="606.3" stroke="#000" stroke-width="0.8" />
<rect x="383.8" y="615.8" width="22" height="5.5" fill="#000" stroke="#000" stroke-width="1.5"/>
<line x1="394.5" y1="615.8" x2="394.5" y2="613.3" stroke="#000" stroke-width="0.8" />
<line x1="389" y1="613.3" x2="399.5" y2="613.3" stroke="#000" stroke-width="0.8" />
<rect x="417" y="534.18" width="21.8" height="87.12" fill="#fff" stroke="#000" stroke-width="1.5"/>
<line x1="427.8" y1="534.18" x2="427.8" y2="518.8" stroke="#000" stroke-width="0.8" />
<line x1="422.5" y1="518.8" x2="433" y2="518.8" stroke="#000" stroke-width="0.8" />
<rect x="417" y="615.3" width="21.8" height="6" fill="#000" stroke="#000" stroke-width="1.5"/>
<line x1="427.8" y1="615.3" x2="427.8" y2="611.9" stroke="#000" stroke-width="0.8" />
<line x1="422.8" y1="611.9" x2="433" y2="611.9" stroke="#000" stroke-width="0.8" />
<text x="428" y="520" font-size="11" font-weight="normal" text-anchor="middle" stroke="#000" stroke-width="0.4" >**</text>
<line x1="311.8" y1="488.3" x2="311.8" y2="622.3" stroke="#000" stroke-width="2.0" />
<line x1="307.6" y1="621.3" x2="311.8" y2="621.3" stroke="#000" stroke-width="1.6" />
<text x="306.4" y="624.55" font-size="9.7" font-weight="bold" text-anchor="end" stroke="#000" stroke-width="0.4" letter-spacing="-0.2">0</text>
<line x1="307.6" y1="588.3" x2="311.8" y2="588.3" stroke="#000" stroke-width="1.6" />
<text x="306.4" y="591.55" font-size="9.7" font-weight="bold" text-anchor="end" stroke="#000" stroke-width="0.4" letter-spacing="-0.2">1</text>
<line x1="307.6" y1="555.3" x2="311.8" y2="555.3" stroke="#000" stroke-width="1.6" />
<text x="306.4" y="558.55" font-size="9.7" font-weight="bold" text-anchor="end" stroke="#000" stroke-width="0.4" letter-spacing="-0.2">2</text>
<line x1="307.6" y1="522.3" x2="311.8" y2="522.3" stroke="#000" stroke-width="1.6" />
<text x="306.4" y="525.55" font-size="9.7" font-weight="bold" text-anchor="end" stroke="#000" stroke-width="0.4" letter-spacing="-0.2">3</text>
<line x1="307.6" y1="489.3" x2="311.8" y2="489.3" stroke="#000" stroke-width="1.6" />
<text x="306.4" y="492.55" font-size="9.7" font-weight="bold" text-anchor="end" stroke="#000" stroke-width="0.4" letter-spacing="-0.2">4</text>
<line x1="310.3" y1="614.7" x2="311.8" y2="614.7" stroke="#000" stroke-width="1.2800000000000002" />
<line x1="310.3" y1="608.1" x2="311.8" y2="608.1" stroke="#000" stroke-width="1.2800000000000002" />
<line x1="310.3" y1="601.5" x2="311.8" y2="601.5" stroke="#000" stroke-width="1.2800000000000002" />
<line x1="310.3" y1="594.9" x2="311.8" y2="594.9" stroke="#000" stroke-width="1.2800000000000002" />
<line x1="310.3" y1="581.7" x2="311.8" y2="581.7" stroke="#000" stroke-width="1.2800000000000002" />
<line x1="310.3" y1="575.1" x2="311.8" y2="575.1" stroke="#000" stroke-width="1.2800000000000002" />
<line x1="310.3" y1="568.5" x2="311.8" y2="568.5" stroke="#000" stroke-width="1.2800000000000002" />
<line x1="310.3" y1="561.9" x2="311.8" y2="561.9" stroke="#000" stroke-width="1.2800000000000002" />
<line x1="310.3" y1="548.7" x2="311.8" y2="548.7" stroke="#000" stroke-width="1.2800000000000002" />
<line x1="310.3" y1="542.1" x2="311.8" y2="542.1" stroke="#000" stroke-width="1.2800000000000002" />
<line x1="310.3" y1="535.5" x2="311.8" y2="535.5" stroke="#000" stroke-width="1.2800000000000002" />
<line x1="310.3" y1="528.9" x2="311.8" y2="528.9" stroke="#000" stroke-width="1.2800000000000002" />
<line x1="310.3" y1="515.7" x2="311.8" y2="515.7" stroke="#000" stroke-width="1.2800000000000002" />
<line x1="310.3" y1="509.1" x2="311.8" y2="509.1" stroke="#000" stroke-width="1.2800000000000002" />
<line x1="310.3" y1="502.5" x2="311.8" y2="502.5" stroke="#000" stroke-width="1.2800000000000002" />
<line x1="310.3" y1="495.9" x2="311.8" y2="495.9" stroke="#000" stroke-width="1.2800000000000002" />
<line x1="310.8" y1="621.7" x2="444.8" y2="621.7" stroke="#000" stroke-width="2.2" />
<line x1="328.6" y1="621.3" x2="328.6" y2="625.7" stroke="#000" stroke-width="1.6" />
<line x1="361.8" y1="621.3" x2="361.8" y2="625.7" stroke="#000" stroke-width="1.6" />
<line x1="394.5" y1="621.3" x2="394.5" y2="625.7" stroke="#000" stroke-width="1.6" />
<line x1="427.9" y1="621.3" x2="427.9" y2="625.7" stroke="#000" stroke-width="1.6" />
<text x="330.5" y="632.5" font-size="9.8" font-weight="bold" text-anchor="end" stroke="#000" stroke-width="0.2" transform="rotate(-45 330.5 632.5)">no vaccine</text>
<text x="363.5" y="632.5" font-size="9.8" font-weight="bold" text-anchor="end" stroke="#000" stroke-width="0.2" transform="rotate(-45 363.5 632.5)">IL-2<tspan font-weight="normal" fill="#444" stroke="none" font-size="7.64" dy="1.2">S4B6</tspan></text>
<text x="396.5" y="632.5" font-size="9.8" font-weight="bold" text-anchor="end" stroke="#000" stroke-width="0.2" transform="rotate(-45 396.5 632.5)">E.G7-gp96-Ig</text>
<text x="429.5" y="632.5" font-size="9.8" font-weight="bold" text-anchor="end" stroke="#000" stroke-width="0.2" transform="rotate(-45 429.5 632.5)">E.G7-gp96-Ig + IL-2<tspan font-weight="normal" fill="#444" stroke="none" font-size="7.64" dy="1.2">S4B6</tspan></text>
<text x="296" y="554.8" font-size="11.0" font-weight="bold" text-anchor="middle" stroke="#000" stroke-width="0.4" transform="rotate(-90 296 554.8)">CD8 T<tspan font-size="8.25" dy="2.2" letter-spacing="0">eff</tspan><tspan dy="-2.2"> Number (x10</tspan><tspan font-size="8.14" dy="-4.4">6</tspan><tspan dy="4.4">)</tspan></text>
<rect x="322.6" y="495.8" width="13.8" height="6.6" fill="#fff" stroke="#000" stroke-width="1.1"/>
<rect x="322.6" y="513.3" width="13.8" height="6.6" fill="#000" stroke="#000" stroke-width="1.1"/>
<text x="345" y="502.2" font-size="10.8" font-weight="normal" text-anchor="start" stroke="#000" stroke-width="0.18" >non-OVA<tspan font-size="8.21" dy="3.2" letter-spacing="0">257-264</tspan></text>
<text x="345" y="518.8" font-size="10.8" font-weight="normal" text-anchor="start" stroke="#000" stroke-width="0.18" >OVA<tspan font-size="8.21" dy="3.2" letter-spacing="0">257-264</tspan></text>
<text x="0.6" y="674.7" font-size="16.5" font-weight="bold" text-anchor="start" stroke="#000" stroke-width="0.65" >G</text>
<polyline points="132.38,680 132.38,706.26 136.78,706.26 136.78,758.78 141.19,758.78 141.19,785.04 150.01,785.04 150.01,811.3" fill="none" stroke="#000" stroke-width="1.3" stroke-linejoin="miter" />
<polyline points="136.78,680 136.78,706.26 141.19,706.26 141.19,732.52 145.6,732.52 145.6,758.78 150.01,758.78 150.01,785.04 154.42,785.04 154.42,811.3" fill="none" stroke="#000" stroke-width="1.3" stroke-linejoin="miter" />
<polyline points="132.38,680 132.38,732.52 141.19,732.52 141.19,758.78 145.6,758.78 145.6,785.04 150.01,785.04 150.01,811.3" fill="none" stroke="#000" stroke-width="1.3" stroke-linejoin="miter" />
<polyline points="150.01,680 150.01,706.26 176.46,706.26 176.46,732.52 202.9,732.52 202.9,758.78 216.13,758.78 216.13,785.04 220.54,785.04 220.54,811.3" fill="none" stroke="#000" stroke-width="1.3" stroke-linejoin="miter" />
<line x1="35.4" y1="680" x2="150.01" y2="680" stroke="#000" stroke-width="1.3" />
<line x1="129.08" y1="702.96" x2="135.68" y2="709.56" stroke="#000" stroke-width="1.9" />
<line x1="129.08" y1="709.56" x2="135.68" y2="702.96" stroke="#000" stroke-width="1.9" />
<line x1="133.48" y1="755.48" x2="140.08" y2="762.08" stroke="#000" stroke-width="1.9" />
<line x1="133.48" y1="762.08" x2="140.08" y2="755.48" stroke="#000" stroke-width="1.9" />
<line x1="137.89" y1="781.74" x2="144.49" y2="788.34" stroke="#000" stroke-width="1.9" />
<line x1="137.89" y1="788.34" x2="144.49" y2="781.74" stroke="#000" stroke-width="1.9" />
<line x1="146.71" y1="808" x2="153.31" y2="814.6" stroke="#000" stroke-width="1.9" />
<line x1="146.71" y1="814.6" x2="153.31" y2="808" stroke="#000" stroke-width="1.9" />
<circle cx="132.38" cy="732.52" r="4.1" fill="#000"/>
<circle cx="141.19" cy="758.78" r="4.1" fill="#000"/>
<circle cx="145.6" cy="785.04" r="4.1" fill="#000"/>
<circle cx="150.01" cy="811.3" r="4.1" fill="#000"/>
<polygon points="132.38,706.26 136.78,701.86 141.18,706.26 136.78,710.66" fill="#000"/>
<polygon points="136.79,732.52 141.19,728.12 145.59,732.52 141.19,736.92" fill="#000"/>
<polygon points="141.2,758.78 145.6,754.38 150,758.78 145.6,763.18" fill="#000"/>
<polygon points="145.61,785.04 150.01,780.64 154.41,785.04 150.01,789.44" fill="#000"/>
<polygon points="150.02,811.3 154.42,806.9 158.82,811.3 154.42,815.7" fill="#000"/>
<rect x="146.11" y="702.36" width="7.8" height="7.8" fill="#000"/>
<rect x="172.56" y="728.62" width="7.8" height="7.8" fill="#000"/>
<rect x="199" y="754.88" width="7.8" height="7.8" fill="#000"/>
<rect x="212.23" y="781.14" width="7.8" height="7.8" fill="#000"/>
<rect x="216.64" y="807.4" width="7.8" height="7.8" fill="#000"/>
<line x1="35.4" y1="679" x2="35.4" y2="812.3" stroke="#000" stroke-width="2.0" />
<line x1="31.2" y1="811.3" x2="35.4" y2="811.3" stroke="#000" stroke-width="1.6" />
<text x="30.2" y="814.55" font-size="10.0" font-weight="bold" text-anchor="end" stroke="#000" stroke-width="0.4" >0</text>
<line x1="31.2" y1="798.17" x2="35.4" y2="798.17" stroke="#000" stroke-width="1.6" />
<text x="30.2" y="801.42" font-size="10.0" font-weight="bold" text-anchor="end" stroke="#000" stroke-width="0.4" >10</text>
<line x1="31.2" y1="785.04" x2="35.4" y2="785.04" stroke="#000" stroke-width="1.6" />
<text x="30.2" y="788.29" font-size="10.0" font-weight="bold" text-anchor="end" stroke="#000" stroke-width="0.4" >20</text>
<line x1="31.2" y1="771.91" x2="35.4" y2="771.91" stroke="#000" stroke-width="1.6" />
<text x="30.2" y="775.16" font-size="10.0" font-weight="bold" text-anchor="end" stroke="#000" stroke-width="0.4" >30</text>
<line x1="31.2" y1="758.78" x2="35.4" y2="758.78" stroke="#000" stroke-width="1.6" />
<text x="30.2" y="762.03" font-size="10.0" font-weight="bold" text-anchor="end" stroke="#000" stroke-width="0.4" >40</text>
<line x1="31.2" y1="745.65" x2="35.4" y2="745.65" stroke="#000" stroke-width="1.6" />
<text x="30.2" y="748.9" font-size="10.0" font-weight="bold" text-anchor="end" stroke="#000" stroke-width="0.4" >50</text>
<line x1="31.2" y1="732.52" x2="35.4" y2="732.52" stroke="#000" stroke-width="1.6" />
<text x="30.2" y="735.77" font-size="10.0" font-weight="bold" text-anchor="end" stroke="#000" stroke-width="0.4" >60</text>
<line x1="31.2" y1="719.39" x2="35.4" y2="719.39" stroke="#000" stroke-width="1.6" />
<text x="30.2" y="722.64" font-size="10.0" font-weight="bold" text-anchor="end" stroke="#000" stroke-width="0.4" >70</text>
<line x1="31.2" y1="706.26" x2="35.4" y2="706.26" stroke="#000" stroke-width="1.6" />
<text x="30.2" y="709.51" font-size="10.0" font-weight="bold" text-anchor="end" stroke="#000" stroke-width="0.4" >80</text>
<line x1="31.2" y1="693.13" x2="35.4" y2="693.13" stroke="#000" stroke-width="1.6" />
<text x="30.2" y="696.38" font-size="10.0" font-weight="bold" text-anchor="end" stroke="#000" stroke-width="0.4" >90</text>
<line x1="31.2" y1="680" x2="35.4" y2="680" stroke="#000" stroke-width="1.6" />
<text x="30.2" y="683.25" font-size="10.0" font-weight="bold" text-anchor="end" stroke="#000" stroke-width="0.4" >100</text>
<line x1="34.4" y1="811.45" x2="234.56" y2="811.45" stroke="#000" stroke-width="2.2" />
<line x1="35.4" y1="811.3" x2="35.4" y2="814.9" stroke="#000" stroke-width="1.6" />
<text x="35.4" y="825.5" font-size="10.0" font-weight="bold" text-anchor="middle" stroke="#000" stroke-width="0.4" >0</text>
<line x1="57.44" y1="811.3" x2="57.44" y2="814.9" stroke="#000" stroke-width="1.6" />
<text x="57.44" y="825.5" font-size="10.0" font-weight="bold" text-anchor="middle" stroke="#000" stroke-width="0.4" >5</text>
<line x1="79.48" y1="811.3" x2="79.48" y2="814.9" stroke="#000" stroke-width="1.6" />
<text x="79.48" y="825.5" font-size="10.0" font-weight="bold" text-anchor="middle" stroke="#000" stroke-width="0.4" >10</text>
<line x1="101.52" y1="811.3" x2="101.52" y2="814.9" stroke="#000" stroke-width="1.6" />
<text x="101.52" y="825.5" font-size="10.0" font-weight="bold" text-anchor="middle" stroke="#000" stroke-width="0.4" >15</text>
<line x1="123.56" y1="811.3" x2="123.56" y2="814.9" stroke="#000" stroke-width="1.6" />
<text x="123.56" y="825.5" font-size="10.0" font-weight="bold" text-anchor="middle" stroke="#000" stroke-width="0.4" >20</text>
<line x1="145.6" y1="811.3" x2="145.6" y2="814.9" stroke="#000" stroke-width="1.6" />
<text x="145.6" y="825.5" font-size="10.0" font-weight="bold" text-anchor="middle" stroke="#000" stroke-width="0.4" >25</text>
<line x1="167.64" y1="811.3" x2="167.64" y2="814.9" stroke="#000" stroke-width="1.6" />
<text x="167.64" y="825.5" font-size="10.0" font-weight="bold" text-anchor="middle" stroke="#000" stroke-width="0.4" >30</text>
<line x1="189.68" y1="811.3" x2="189.68" y2="814.9" stroke="#000" stroke-width="1.6" />
<text x="189.68" y="825.5" font-size="10.0" font-weight="bold" text-anchor="middle" stroke="#000" stroke-width="0.4" >35</text>
<line x1="211.72" y1="811.3" x2="211.72" y2="814.9" stroke="#000" stroke-width="1.6" />
<text x="211.72" y="825.5" font-size="10.0" font-weight="bold" text-anchor="middle" stroke="#000" stroke-width="0.4" >40</text>
<line x1="233.76" y1="811.3" x2="233.76" y2="814.9" stroke="#000" stroke-width="1.6" />
<text x="233.76" y="825.5" font-size="10.0" font-weight="bold" text-anchor="middle" stroke="#000" stroke-width="0.4" >45</text>
<text x="134.3" y="840.2" font-size="10.95" font-weight="bold" text-anchor="middle" stroke="#000" stroke-width="0.4" >Day Post-HSCT</text>
<text x="10.4" y="745" font-size="11.3" font-weight="bold" text-anchor="middle" stroke="#000" stroke-width="0.4" transform="rotate(-90 10.4 745)">Survival (%)</text>
<line x1="45" y1="735.5" x2="59" y2="735.5" stroke="#000" stroke-width="1.3" />
<line x1="48.7" y1="732.2" x2="55.3" y2="738.8" stroke="#000" stroke-width="1.9" />
<line x1="48.7" y1="738.8" x2="55.3" y2="732.2" stroke="#000" stroke-width="1.9" />
<text x="67.5" y="739.3" font-size="10.8" font-weight="normal" text-anchor="start" stroke="#000" stroke-width="0.18" >no vaccine</text>
<line x1="45" y1="752" x2="59" y2="752" stroke="#000" stroke-width="1.3" />
<polygon points="47.6,752 52,747.6 56.4,752 52,756.4" fill="#000"/>
<text x="67.5" y="755.8" font-size="10.8" font-weight="normal" text-anchor="start" stroke="#000" stroke-width="0.18" >IL-2<tspan font-size="8.42" dy="2.1" letter-spacing="0.2">S4B6</tspan></text>
<line x1="45" y1="768" x2="59" y2="768" stroke="#000" stroke-width="1.3" />
<circle cx="52" cy="768" r="4.1" fill="#000"/>
<text x="67.5" y="771.8" font-size="10.8" font-weight="normal" text-anchor="start" stroke="#000" stroke-width="0.18" >EL4-gp96-Ig</text>
<line x1="45" y1="784.5" x2="59" y2="784.5" stroke="#000" stroke-width="1.3" />
<rect x="48.1" y="780.6" width="7.8" height="7.8" fill="#000"/>
<text x="67.5" y="788.3" font-size="10.8" font-weight="normal" text-anchor="start" stroke="#000" stroke-width="0.18" >EL4-gp96-Ig</text>
<text x="67.5" y="800.3" font-size="10.8" font-weight="normal" text-anchor="start" stroke="#000" stroke-width="0.18" >+ IL-2<tspan font-size="8.42" dy="2.1" letter-spacing="0.2">S4B6</tspan></text>
<text x="232" y="810.5" font-size="11" font-weight="normal" text-anchor="middle" stroke="#000" stroke-width="0.4" >**</text>
</svg>
</body></html>
